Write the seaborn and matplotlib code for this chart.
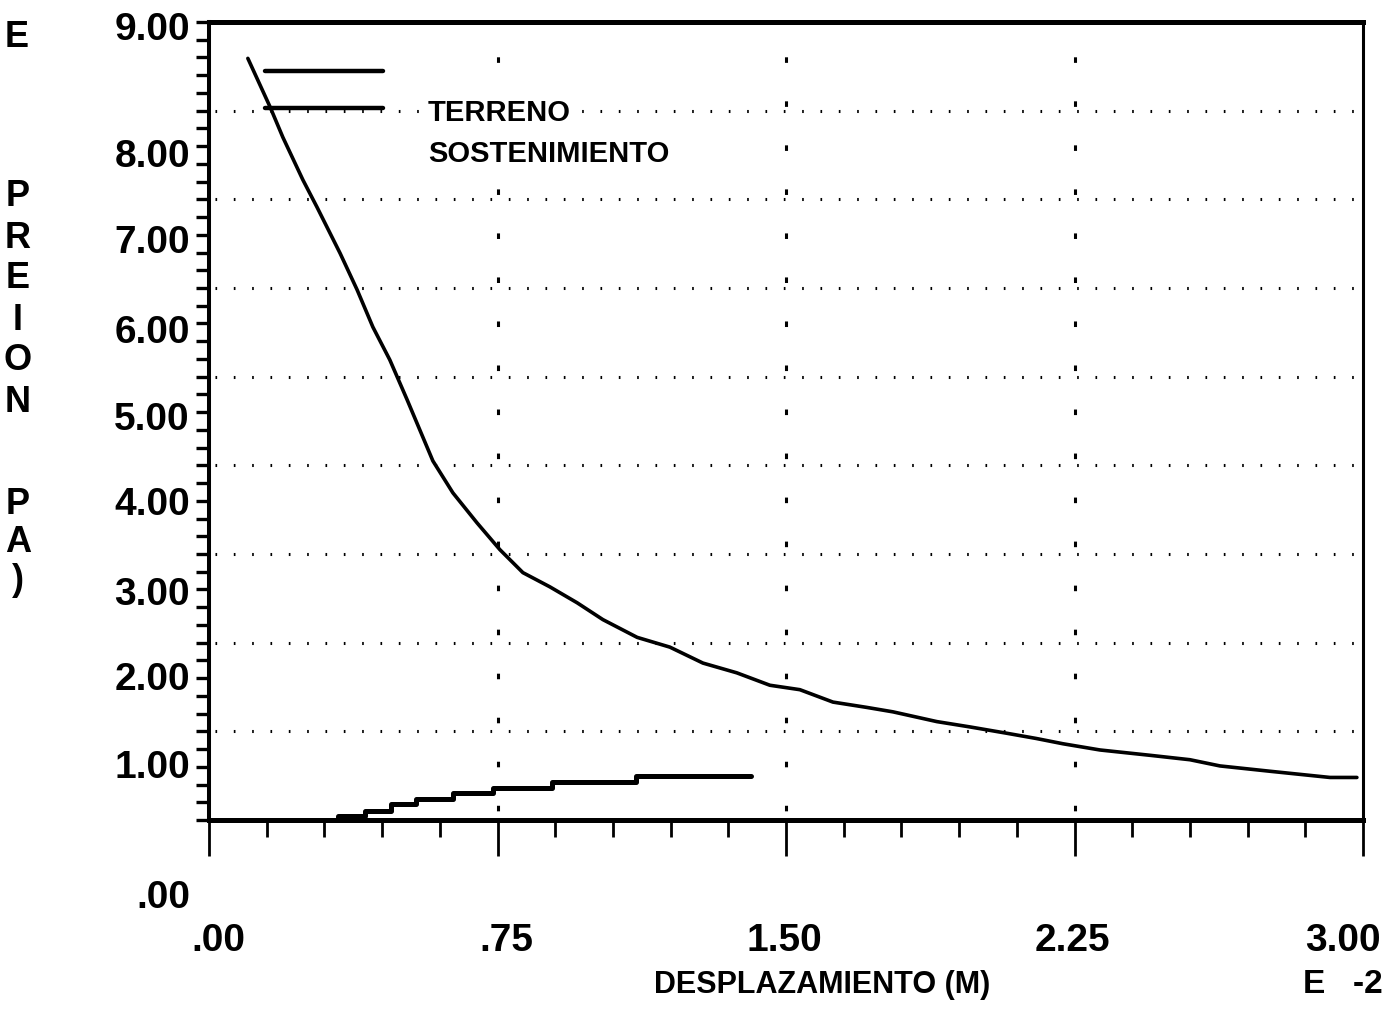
import numpy as np
import matplotlib
matplotlib.use("Agg")
import matplotlib.pyplot as plt
import seaborn as sns

# ---------------------------
# Data (desplazamiento in E-2 m, presion)
# ---------------------------
terreno_x = [0.101, 0.159, 0.192, 0.244, 0.281, 0.341, 0.385, 0.426, 0.470, 0.515,
             0.582, 0.634, 0.697, 0.756, 0.816, 0.886, 0.957, 1.024, 1.113, 1.198,
             1.284, 1.372, 1.458, 1.536, 1.622, 1.710, 1.778, 1.892, 1.978, 2.072,
             2.150, 2.220, 2.316, 2.446, 2.550, 2.628, 2.758, 2.914, 2.984]
terreno_y = [8.59, 8.04, 7.70, 7.22, 6.91, 6.39, 5.98, 5.56, 5.19, 4.74,
             4.05, 3.69, 3.35, 3.05, 2.79, 2.63, 2.45, 2.26, 2.06, 1.95,
             1.77, 1.66, 1.52, 1.47, 1.33, 1.27, 1.22, 1.11, 1.05, 0.98,
             0.92, 0.86, 0.79, 0.73, 0.68, 0.61, 0.55, 0.48, 0.48]

sost_x = [0.29, 0.335, 0.405, 0.472, 0.538, 0.635, 0.738, 0.892, 1.11, 1.41]
sost_y = [0.0, 0.05, 0.106, 0.176, 0.235, 0.30, 0.365, 0.43, 0.50, 0.50]

x_major = [0.0, 0.75, 1.5, 2.25, 3.0]
x_labels = [".00", ".75", "1.50", "2.25", "3.00"]
grid_x = [0.75, 1.5, 2.25]
grid_y = [1, 2, 3, 4, 5, 6, 7, 8]
y_labels = ["9.00", "8.00", "7.00", "6.00", "5.00", "4.00", "3.00", "2.00", "1.00", ".00"]
legend_names = ["TERRENO", "SOSTENIMIENTO"]

# layout (plotter put the labels a bit off the grid)
y_label_pos = [8.91, 7.48, 6.51, 5.49, 4.51, 3.55, 2.54, 1.58, 0.59, -0.88]
x_label_dx = [26, 26, 26, 26, 13]

# ---------------------------
# Style
# ---------------------------
sns.set_style("white")
plt.rcParams["font.family"] = ["Liberation Sans", "DejaVu Sans"]
plt.rcParams["font.weight"] = "bold"
plt.rcParams["text.color"] = "black"
plt.rcParams["lines.scale_dashes"] = False

fig = plt.figure(figsize=(13.98, 10.10), dpi=100)
ax = fig.add_axes([0.1495, 0.1881, 0.8255, 0.7901])

# grid (dotted, plotter style)
for gy in grid_y:
    ax.axhline(gy, color="black", lw=2.2, ls=(8.9, (1.2, 12.0)), zorder=1)
for gx in grid_x:
    ax.axvline(gx, color="black", lw=2.2, ls=(25.1, (4.0, 27.7)), zorder=1)

# curves
sns.lineplot(x=terreno_x, y=terreno_y, ax=ax, color="black", lw=2.6,
             estimator=None, sort=False, zorder=3)
sns.lineplot(x=sost_x, y=sost_y, ax=ax, color="black", lw=3.6,
             estimator=None, drawstyle="steps-post", zorder=3)

ax.set_xlim(0, 3)
ax.set_ylim(0, 9)

# ticks
ax.set_xticks(x_major)
ax.set_xticks(np.arange(0, 3.001, 0.15), minor=True)
ax.set_yticks(np.arange(0, 9.001, 0.2))
ax.tick_params(axis="x", which="major", direction="out", length=26, width=2,
               color="black", labelbottom=False, bottom=True)
ax.tick_params(axis="x", which="minor", direction="out", length=12, width=2,
               color="black", bottom=True)
ax.tick_params(axis="y", which="major", direction="out", length=9.5, width=2.4,
               color="black", labelleft=False, left=True)

for side, lw in [("top", 3.6), ("bottom", 3.6), ("left", 2.9), ("right", 2.2)]:
    ax.spines[side].set_visible(True)
    ax.spines[side].set_color("black")
    ax.spines[side].set_linewidth(lw)

# tick labels
for lab, pos in zip(y_labels, y_label_pos):
    ax.annotate(lab, xy=(0, pos), xycoords=("axes fraction", "data"),
                xytext=(-13.7, 0), textcoords="offset points", color="black",
                ha="right", va="center", fontsize=28, annotation_clip=False)
for lab, pos, dx in zip(x_labels, x_major, x_label_dx):
    ax.annotate(lab, xy=(pos, 0), xycoords=("data", "axes fraction"),
                xytext=(dx, -87), textcoords="offset points", color="black",
                ha="right", va="center", fontsize=28, annotation_clip=False)

# legend, drawn by hand like the plotter did
leg_lines_y = [0.9386, 0.892]
leg_text_y = [0.886, 0.8346]
for ly in leg_lines_y:
    ax.plot([0.0485, 0.1508], [ly, ly], transform=ax.transAxes,
            color="black", lw=3.2, zorder=4)
for name, ty in zip(legend_names, leg_text_y):
    ax.text(0.1898, ty, name, transform=ax.transAxes, ha="left", va="center",
            fontsize=21, zorder=5, color="black",
            bbox=dict(facecolor="white", edgecolor="none", pad=0.5))

# axis titles
fig.text(0.588, 0.0248, "DESPLAZAMIENTO (M)", ha="center", va="center", fontsize=22)
fig.text(0.9893, 0.0248, "E   -2", ha="right", va="center", fontsize=24)
fig.text(0.0122, 0.963, "E", ha="center", va="center", fontsize=26)

for i, ch in enumerate("PREION"):
    fig.text(0.0129, 1 - (197 + i * 41) / 1010, ch, ha="center", va="center", fontsize=26)
for i, ch in enumerate("PA)"):
    fig.text(0.0129, 1 - (505 + i * 38) / 1010, ch, ha="center", va="center", fontsize=26)

fig.savefig("out.png", dpi=100, facecolor="white")
